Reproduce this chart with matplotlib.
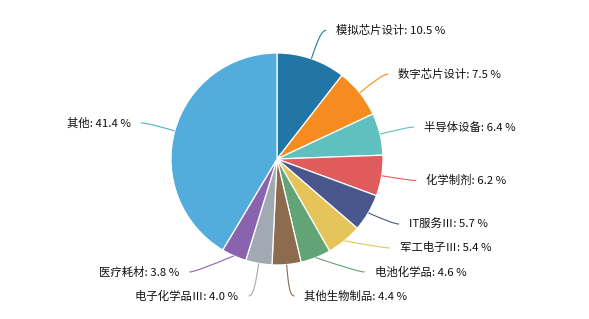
import numpy as np
import matplotlib.pyplot as plt
from matplotlib.path import Path
from matplotlib.patches import PathPatch

plt.rcParams['font.family'] = ['Noto Sans CJK SC', 'DejaVu Sans']

names = ['模拟芯片设计', '数字芯片设计', '半导体设备', '化学制剂', 'IT服务Ⅲ', '军工电子Ⅲ',
         '电池化学品', '其他生物制品', '电子化学品Ⅲ', '医疗耗材', '其他']
shares = [10.5, 7.5, 6.4, 6.2, 5.7, 5.4, 4.6, 4.4, 4.0, 3.8, 41.4]
colors = ['#2276a5', '#f68b1f', '#60c0c0', '#e05b5b', '#4a568e', '#e5c55a',
          '#62a475', '#8d6b4f', '#a1aab3', '#8963ad', '#52acdc']

W, H = 589, 319
cx, cy, r = 277, H - 159, 106

fig = plt.figure(figsize=(W / 100, H / 100), dpi=100)
ax = fig.add_axes([0, 0, 1, 1])

wedges, _ = ax.pie(shares, colors=colors, startangle=90, counterclock=False,
                   center=(cx, cy), radius=r,
                   wedgeprops=dict(edgecolor='white', linewidth=0.9))
ax.set_xlim(0, W)
ax.set_ylim(0, H)
ax.set_aspect('equal')
ax.axis('off')

# label layout (like echarts: push labels apart, keep inside bottom bound)
r_elbow = r + 30
r_shift = r + 34
gap = 24
bottom = H - 296
labels = []
for i, w in enumerate(wedges):
    mid = np.deg2rad((w.theta1 + w.theta2) / 2)
    side = 1 if np.cos(mid) >= 0 else -1
    y0 = cy + r_elbow * np.sin(mid)
    labels.append(dict(i=i, mid=mid, side=side, y0=y0, y=y0))

for side in (1, -1):
    grp = sorted([l for l in labels if l['side'] == side], key=lambda l: -l['y'])
    for k in range(1, len(grp)):
        if grp[k - 1]['y'] - grp[k]['y'] < gap:
            grp[k]['y'] = grp[k - 1]['y'] - gap
    if grp[-1]['y'] < bottom:
        grp[-1]['y'] = bottom
        for k in range(len(grp) - 2, -1, -1):
            if grp[k]['y'] - grp[k + 1]['y'] < gap:
                grp[k]['y'] = grp[k + 1]['y'] + gap

for l in labels:
    i, mid, side = l['i'], l['mid'], l['side']
    sx, sy = cx + r * np.cos(mid), cy + r * np.sin(mid)
    y = l['y']
    if abs(y - l['y0']) > 5:
        dy = y - cy
        x = cx + side * np.sqrt(max(r_shift ** 2 - dy ** 2, 0))
    else:
        x = cx + r_elbow * np.cos(mid)
    ex = x + side * 5
    p1 = (sx + 0.6 * (x - sx), sy + 0.6 * (y - sy))
    path = Path([(sx, sy), p1, (x, y), (ex, y)],
                [Path.MOVETO, Path.CURVE4, Path.CURVE4, Path.CURVE4])
    ax.add_patch(PathPatch(path, facecolor='none', edgecolor=colors[i], lw=0.8))
    ax.text(ex + side * 10, y, f'{names[i]}: {shares[i]:.1f} %', fontsize=8.2,
            color='#111111', ha='left' if side > 0 else 'right', va='center')

fig.savefig('out.png', dpi=100)
